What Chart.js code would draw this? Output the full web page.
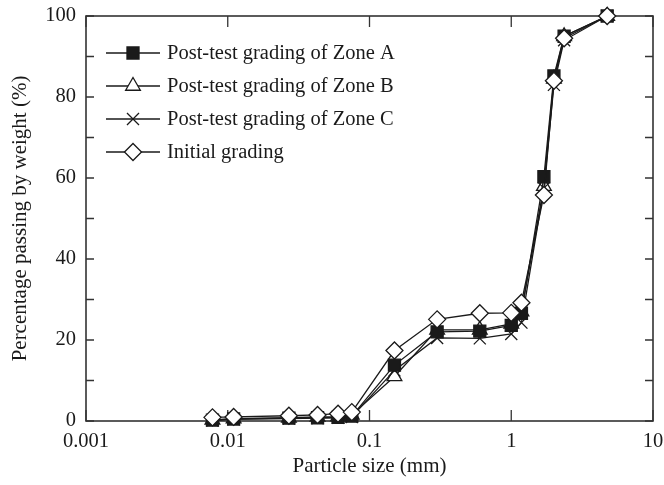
<!DOCTYPE html>
<html><head><meta charset="utf-8">
<script src="https://cdn.jsdelivr.net/npm/chart.js@4/dist/chart.umd.min.js"></script>
<style>html,body{margin:0;padding:0;background:#fff}#wrap{width:664px;height:485px}</style>
</head><body><div id="wrap"><canvas id="c" width="664" height="485"></canvas></div>
<script>
// ---- data ----
const particleSize = [0.0078, 0.011, 0.027, 0.043, 0.06, 0.075, 0.15, 0.3, 0.6, 1.0, 1.18, 1.7, 2.0, 2.36, 4.75];
const zoneA   = [0.2, 0.5, 0.7, 0.8, 0.9, 1.2, 13.8, 22.0, 22.2, 23.6, 26.6, 60.3, 85.2, 95.0, 100];
const zoneB   = [0.3, 0.6, 0.8, 1.0, 1.1, 1.5, 11.0, 22.5, 22.5, 24.0, 27.0, 58.0, 84.5, 95.0, 100];
const zoneC   = [0.1, 0.4, 0.6, 0.7, 0.8, 1.0, 12.5, 20.5, 20.4, 21.5, 24.3, 57.5, 83.0, 94.0, 100];
const initial = [0.9, 1.0, 1.3, 1.5, 1.8, 2.2, 17.4, 25.1, 26.6, 26.7, 29.2, 55.8, 84.0, 94.5, 100];
const seriesNames = ['Post-test grading of Zone A', 'Post-test grading of Zone B', 'Post-test grading of Zone C', 'Initial grading'];
const xTickValues = [0.001, 0.01, 0.1, 1, 10];
const xTickLabels = ['0.001', '0.01', '0.1', '1', '10'];
const yLabelValues = [0, 20, 40, 60, 80, 100];
const yTickMarks = [0, 10, 20, 30, 40, 50, 60, 70, 80, 90, 100];
const xTitle = 'Particle size (mm)';
const yTitle = 'Percentage passing by weight (%)';

const FONT = 'Liberation Serif';
const INK = '#1a1a1a';

function pts(ys) { return particleSize.map((x, i) => ({ x: x, y: ys[i] })); }
function ds(label, ys, style, fill, order) {
  return {
    label: label, data: pts(ys), borderColor: INK, borderWidth: 1.3,
    pointStyle: style, pointRadius: 8.5, pointHoverRadius: 8.5,
    pointBackgroundColor: fill, pointBorderColor: INK, pointBorderWidth: 1.3,
    showLine: true, fill: false, tension: 0, clip: false, order: order
  };
}

const frameTicks = {
  id: 'frameTicks',
  beforeDatasetsDraw(chart) {
    const ctx = chart.ctx, a = chart.chartArea, xs = chart.scales.x, ys = chart.scales.y;
    ctx.save();
    ctx.strokeStyle = '#333';
    ctx.lineWidth = 1.6;
    ctx.strokeRect(a.left, a.top, a.right - a.left, a.bottom - a.top);
    ctx.lineWidth = 1.3;
    ctx.beginPath();
    xTickValues.forEach(v => {
      const p = xs.getPixelForValue(v);
      ctx.moveTo(p, a.bottom); ctx.lineTo(p, a.bottom - 11);
      ctx.moveTo(p, a.top); ctx.lineTo(p, a.top + 11);
    });
    yTickMarks.forEach(v => {
      const p = ys.getPixelForValue(v);
      ctx.moveTo(a.left, p); ctx.lineTo(a.left + 8, p);
      ctx.moveTo(a.right, p); ctx.lineTo(a.right - 8, p);
    });
    ctx.stroke();
    ctx.restore();
  }
};

const sampleLegend = {
  id: 'sampleLegend',
  afterDraw(chart) {
    const ctx = chart.ctx, a = chart.chartArea;
    ctx.save();
    ctx.font = '20.5px "' + FONT + '"';
    ctx.textBaseline = 'middle';
    ctx.fillStyle = INK;
    seriesNames.forEach((name, i) => {
      const d = chart.data.datasets[i];
      const y = a.top + 37 + i * 33;
      const x0 = a.left + 20, x1 = a.left + 74, xm = (x0 + x1) / 2;
      ctx.strokeStyle = INK; ctx.lineWidth = 1.3;
      ctx.beginPath(); ctx.moveTo(x0, y); ctx.lineTo(x1, y); ctx.stroke();
      ctx.fillStyle = d.pointBackgroundColor; ctx.strokeStyle = INK; ctx.lineWidth = 1.3;
      Chart.helpers.drawPoint(ctx, { pointStyle: d.pointStyle, radius: d.pointRadius, borderWidth: 1.3, rotation: 0 }, xm, y);
      ctx.fillStyle = INK;
      ctx.fillText(name, a.left + 81, y + 1);
    });
    ctx.restore();
  }
};

new Chart(document.getElementById('c'), {
  type: 'scatter',
  data: {
    datasets: [
      ds(seriesNames[0], zoneA, 'rect', INK, 1),
      ds(seriesNames[1], zoneB, 'triangle', '#fff', 3),
      ds(seriesNames[2], zoneC, 'crossRot', '#fff', 2),
      ds(seriesNames[3], initial, 'rectRot', '#fff', 0)
    ]
  },
  options: {
    responsive: false, animation: false, devicePixelRatio: 1,
    layout: { padding: { top: 16, right: 11, left: 0, bottom: 0 } },
    plugins: { legend: { display: false }, tooltip: { enabled: false } },
    scales: {
      x: {
        type: 'logarithmic', min: 0.001, max: 10,
        afterBuildTicks: s => { s.ticks = xTickValues.map(v => ({ value: v, major: true })); },
        afterFit: s => { s.height = 64; s.paddingLeft = 0; s.paddingRight = 0; },
        ticks: { callback: (v, i) => xTickLabels[i], font: { family: FONT, size: 20.5 }, color: INK, padding: 8, maxRotation: 0, autoSkip: false },
        grid: { display: false, drawTicks: false },
        border: { display: false },
        title: { display: true, text: xTitle, font: { family: FONT, size: 21 }, color: INK, padding: { top: 0, bottom: 6 } }
      },
      y: {
        type: 'linear', min: 0, max: 100,
        afterBuildTicks: s => { s.ticks = yLabelValues.map(v => ({ value: v })); },
        afterFit: s => { s.width = 86; s.paddingTop = 0; s.paddingBottom = 0; },
        ticks: { font: { family: FONT, size: 20.5 }, color: INK, padding: 10 },
        grid: { display: false, drawTicks: false },
        border: { display: false },
        title: { display: true, text: yTitle, font: { family: FONT, size: 21 }, color: INK, padding: { top: 8, bottom: 0 } }
      }
    }
  },
  plugins: [frameTicks, sampleLegend]
});
</script></body></html>
